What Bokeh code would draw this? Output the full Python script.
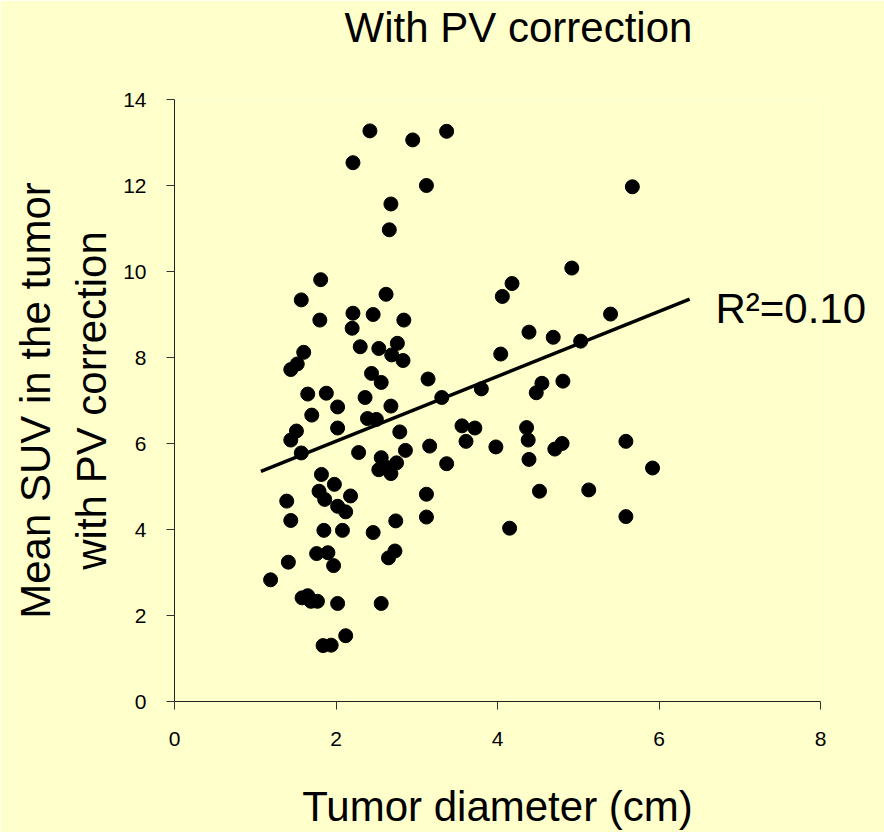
from bokeh.plotting import figure
from bokeh.models import Range1d, FixedTicker, LinearAxis
from bokeh.embed import file_html
from bokeh.resources import INLINE

# ---- data ----
diameter_cm = [
    2.42, 2.21, 2.95, 3.37, 3.12, 2.68, 2.66, 1.81, 1.57, 2.62,
    1.80, 2.21, 2.46, 2.84, 2.20, 2.30, 2.53, 2.76, 2.69, 2.83,
    1.60, 1.52, 1.44, 2.44, 2.56, 3.14, 4.06, 4.04, 1.65, 1.88,
    2.36, 2.02, 1.70, 2.68, 3.31, 3.80, 2.39, 2.50, 1.51, 1.44,
    2.02, 2.79, 1.57, 2.28, 2.86, 3.16, 2.56, 2.53, 2.62, 2.68,
    2.75, 3.37, 3.56, 3.72, 3.61, 3.98, 1.82, 1.98, 1.79, 1.86,
    2.18, 2.02, 2.12, 1.39, 1.44, 1.85, 2.08, 2.46, 2.74, 3.12,
    3.12, 1.41, 1.76, 1.90, 1.97, 2.73, 2.65, 1.19, 1.58, 1.65,
    1.69, 1.77, 2.02, 2.56, 1.84, 1.94, 2.12, 5.67, 4.92, 4.18,
    5.40, 4.39, 4.69, 5.03, 4.55, 4.48, 4.81, 4.36, 4.38, 4.39,
    4.71, 4.80, 5.59, 5.92, 4.52, 5.13, 5.59, 4.15,
]
mean_suv = [
    13.27, 12.53, 13.06, 13.26, 12.00, 11.57, 10.97, 9.81, 9.34, 9.47,
    8.87, 9.03, 9.00, 8.87, 8.68, 8.25, 8.21, 8.33, 8.06, 7.93,
    8.12, 7.85, 7.72, 7.63, 7.42, 7.50, 9.42, 8.08, 7.15, 7.17,
    7.07, 6.85, 6.66, 6.87, 7.07, 7.27, 6.58, 6.56, 6.29, 6.08,
    6.36, 6.27, 5.78, 5.79, 5.84, 5.94, 5.67, 5.39, 5.45, 5.30,
    5.55, 5.53, 6.41, 6.36, 6.05, 5.92, 5.28, 5.05, 4.89, 4.70,
    4.78, 4.54, 4.41, 4.66, 4.21, 3.98, 3.98, 3.93, 4.20, 4.82,
    4.29, 3.24, 3.44, 3.46, 3.16, 3.50, 3.34, 2.83, 2.41, 2.46,
    2.33, 2.33, 2.28, 2.28, 1.30, 1.31, 1.53, 11.97, 10.08, 9.72,
    9.01, 8.59, 8.47, 8.38, 7.40, 7.18, 7.45, 6.37, 6.08, 5.63,
    5.87, 6.00, 6.05, 5.43, 4.89, 4.92, 4.30, 4.03,
]
trend_x = [1.07, 6.38]
trend_y = [5.35, 9.36]
x_ticks = [0, 2, 4, 6, 8]
y_ticks = [0, 2, 4, 6, 8, 10, 12, 14]

r2_value = 0.10
r2_anchor_y = 9.13     # vertical anchor of the R² note, in SUV units
title_anchor_x = 4.26  # horizontal anchor of the heading, in cm units

title_text = "With PV correction"
x_label = "Tumor diameter (cm)"
y_label = "Mean SUV in the tumor\nwith PV correction"
r2_text = "R\u00b2=%.2f" % r2_value

BG = "#FFFFCC"
FONT = "Liberation Sans"

p = figure(width=884, height=832, output_backend="svg", toolbar_location=None,
           x_range=Range1d(0, 8), y_range=Range1d(0, 14),
           min_border_left=174, min_border_right=64,
           min_border_top=99, min_border_bottom=131)
p.title.visible = False
p.background_fill_color = BG
p.border_fill_color = BG
p.outline_line_color = None
p.grid.grid_line_color = None

for ax, ticks in ((p.xaxis, x_ticks), (p.yaxis, y_ticks)):
    ax.ticker = FixedTicker(ticks=ticks)
    ax.minor_tick_line_color = None
    ax.major_tick_in = 0
    ax.major_tick_out = 8
    ax.axis_line_color = "#222222"
    ax.major_tick_line_color = "#333333"
    ax.major_label_text_font = FONT
    ax.major_label_text_font_size = "21px"
    ax.major_label_text_color = "black"
    ax.axis_label_text_font = FONT
    ax.axis_label_text_font_size = "42px"
    ax.axis_label_text_font_style = "normal"
    ax.axis_label_text_color = "black"
p.xaxis.major_label_standoff = 22
p.yaxis.major_label_standoff = 20
p.xaxis.axis_label = x_label
p.xaxis.axis_label_standoff = 34
p.yaxis.axis_label = y_label
p.yaxis.axis_label_standoff = 5
p.yaxis.axis_label_text_line_height = 1.2


def text_only_axis(anchor, text, standoff):
    return LinearAxis(ticker=FixedTicker(ticks=[anchor]),
                      major_label_overrides={anchor: text},
                      axis_line_color=None, major_tick_line_color=None,
                      minor_tick_line_color=None,
                      major_tick_in=0, major_tick_out=0,
                      major_label_standoff=standoff,
                      major_label_text_font=FONT,
                      major_label_text_font_size="42px",
                      major_label_text_color="black")


# heading above the frame and R² note at the right, as single axis labels
p.add_layout(text_only_axis(title_anchor_x, title_text, 49), "above")
p.add_layout(text_only_axis(r2_anchor_y, r2_text, -105), "right")

p.line(trend_x, trend_y, line_color="black", line_width=3.5)
p.scatter(diameter_cm, mean_suv, size=14, marker="circle",
          fill_color="black", line_color="black")

open("out.html", "w").write(file_html(p, INLINE))
